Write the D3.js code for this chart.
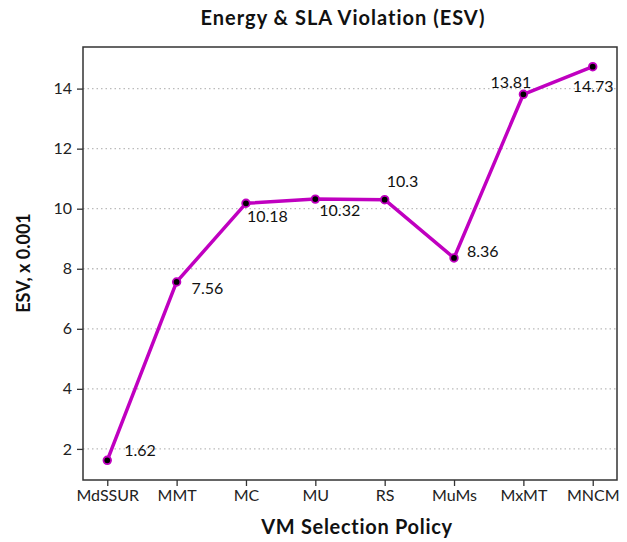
<!DOCTYPE html>
<html><head><meta charset="utf-8">
<script src="https://cdn.jsdelivr.net/npm/d3@7"></script>
<style>body{margin:0;background:#fff;} svg{display:block;} text{font-family:"Linux Biolinum O","Linux Biolinum",Lato,sans-serif;}</style>
</head><body>
<svg id="c" width="627" height="542"></svg>
<script>
const categories = ["MdSSUR","MMT","MC","MU","RS","MuMs","MxMT","MNCM"];
const esvValues = [1.62, 7.56, 10.18, 10.32, 10.3, 8.36, 13.81, 14.73];
const yTicks = [2,4,6,8,10,12,14];
// label offsets (dx, dy) relative to each point
const labelOffsets = [[17,-4],[15,12],[1,19],[4,17],[2,-13],[13,-1],[-33,-6],[-20,25]];

const svg = d3.select("#c");
const L=83, R=617, T=47, B=480;
// matplotlib-like 5% margins
const xi = d3.scaleLinear().domain([-0.35, categories.length-1+0.35]).range([L,R]);
const y = d3.scaleLinear().domain([0.9645, 15.3855]).range([B,T]);

// grid
svg.append("g").selectAll("line").data(yTicks).join("line")
  .attr("x1",L).attr("x2",R).attr("y1",d=>y(d)).attr("y2",d=>y(d))
  .attr("stroke","#bbb").attr("stroke-width",1.3).attr("stroke-dasharray","1.5,3");

// axes
const yAxis = d3.axisLeft(y).tickValues(yTicks).tickSize(6).tickPadding(5);
const gy = svg.append("g").attr("transform",`translate(${L},0)`).call(yAxis);
const xAxis = d3.axisBottom(xi)
  .tickValues(d3.range(categories.length)).tickFormat(i=>categories[i]).tickSize(6).tickPadding(4);
const gx = svg.append("g").attr("transform",`translate(0,${B})`).call(xAxis);
[gx,gy].forEach(g=>{
  g.select(".domain").remove();
  g.selectAll(".tick line").attr("stroke","#333").attr("stroke-width",1.3);
  g.selectAll(".tick text").attr("fill","#222").style("font-size","16px");
});
// frame
svg.append("rect").attr("x",L).attr("y",T).attr("width",R-L).attr("height",B-T)
  .attr("fill","none").attr("stroke","#333").attr("stroke-width",1.5);

// line
const pts = esvValues.map((v,i)=>[xi(i),y(v)]);
svg.append("path").attr("d",d3.line()(pts)).attr("fill","none")
  .attr("stroke","#c000c0").attr("stroke-width",3.5).attr("stroke-linejoin","round");
svg.append("g").selectAll("circle").data(pts).join("circle")
  .attr("cx",d=>d[0]).attr("cy",d=>d[1]).attr("r",3.8)
  .attr("fill","#000").attr("stroke","#c000c0").attr("stroke-width",1.8);

// value labels
svg.append("g").selectAll("text").data(esvValues).join("text")
  .attr("x",(d,i)=>pts[i][0]+labelOffsets[i][0])
  .attr("y",(d,i)=>pts[i][1]+labelOffsets[i][1])
  .attr("fill","#111").style("font-size","16px").text(d=>d);

// titles
svg.append("text").attr("x",343).attr("y",25).attr("text-anchor","middle")
  .style("font-size","20px").style("font-weight","bold").style("letter-spacing","1px")
  .attr("fill","#111").text("Energy & SLA Violation (ESV)");
svg.append("text").attr("x",357).attr("y",534).attr("text-anchor","middle")
  .style("font-size","20px").style("font-weight","bold").style("letter-spacing","0.7px")
  .attr("fill","#111").text("VM Selection Policy");
svg.append("text").attr("transform","translate(30,263) rotate(-90)").attr("text-anchor","middle")
  .style("font-size","18px").style("font-weight","bold").attr("fill","#111").text("ESV, x 0.001");
</script>
</body></html>
